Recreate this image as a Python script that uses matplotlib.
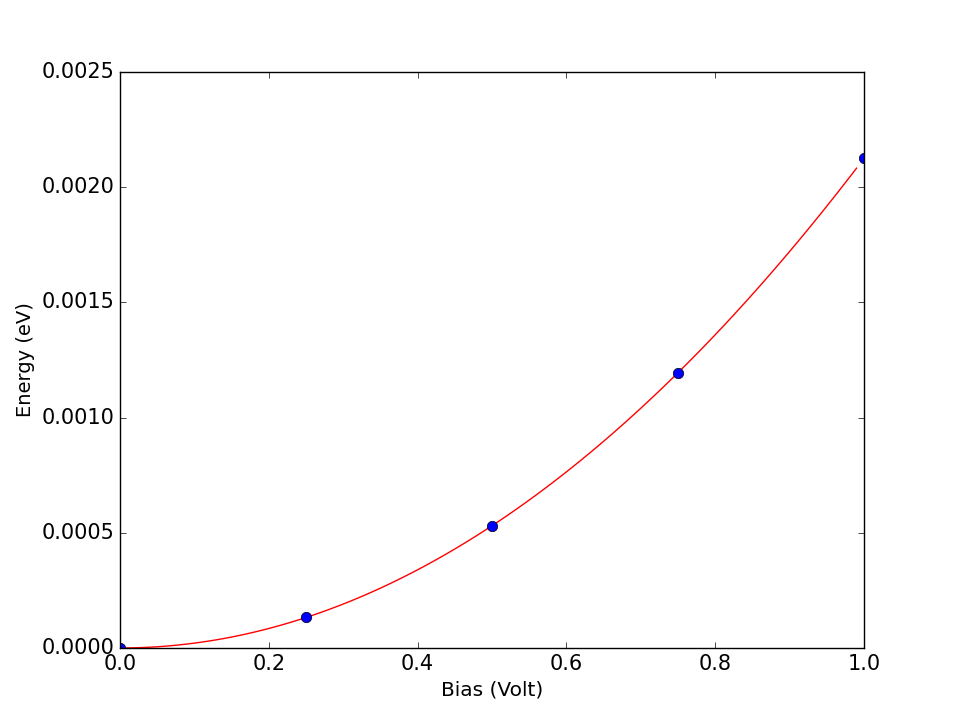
import numpy as np
import matplotlib
matplotlib.use("Agg")
import matplotlib.pyplot as plt

# === DATA ===
bias = [0.0, 0.25, 0.5, 0.75, 1.0]
energy = [0.0, 0.000133, 0.00053, 0.001195, 0.002125]

# quadratic fit of the measured points, drawn as the red curve
coef = np.polyfit(bias, energy, 2)
x_fit = np.linspace(0.0, 0.99, 100)
y_fit = np.polyval(coef, x_fit)

plt.style.use("classic")
plt.rcParams["font.size"] = 14
fig = plt.figure(figsize=(9.6, 7.2), dpi=100, facecolor="white")
ax = fig.add_axes([0.125, 0.1, 0.775, 0.8])

ax.plot(x_fit, y_fit, color="red", linewidth=1.0)
ax.plot(bias, energy, "o", color="blue", markeredgecolor="black", markersize=7.5)

ax.set_xlim(0.0, 1.0)
ax.set_ylim(0.0, 0.0025)
ax.set_xticks(np.arange(0.0, 1.01, 0.2))
ax.set_yticks(np.arange(0.0, 0.00251, 0.0005))
ax.yaxis.set_major_formatter(matplotlib.ticker.FormatStrFormatter("%.4f"))
ax.xaxis.set_major_formatter(matplotlib.ticker.FormatStrFormatter("%.1f"))
ax.tick_params(labelsize=15)
ax.set_xlabel("Bias (Volt)", fontsize=14.5)
ax.set_ylabel("Energy (eV)", fontsize=14)

fig.savefig("out.png", dpi=100, facecolor="white")
